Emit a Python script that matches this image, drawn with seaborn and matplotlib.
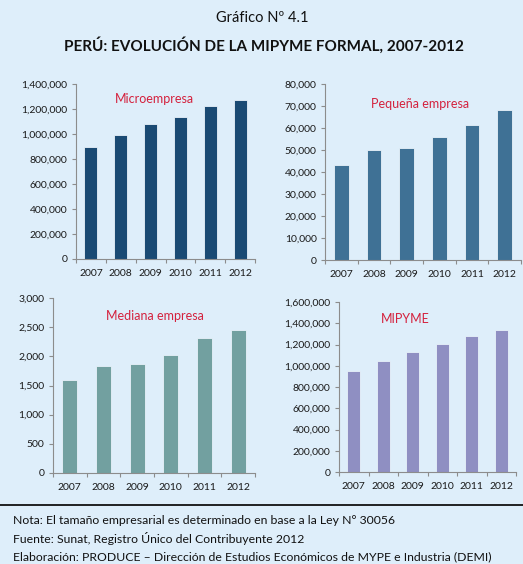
import matplotlib
matplotlib.use("Agg")
import matplotlib.pyplot as plt
import seaborn as sns
import pandas as pd
from matplotlib.ticker import FuncFormatter, FixedLocator

years = ["2007", "2008", "2009", "2010", "2011", "2012"]
micro = [895000, 991000, 1079000, 1138000, 1224000, 1272000]
pequena = [43100, 49800, 50850, 55860, 61180, 68300]
mediana = [1589, 1834, 1874, 2017, 2309, 2451]
mipyme = [946000, 1043600, 1125000, 1204000, 1282500, 1339000]

panel_titles = ["Microempresa", "Pequeña empresa", "Mediana empresa", "MIPYME"]
bar_colors = ["#1A4A73", "#3F7195", "#72A0A0", "#8F8FC2"]
y_max = [1400000, 80000, 3000, 1600000]
y_step = [200000, 10000, 500, 200000]

title1 = "Gráfico Nº 4.1"
title2 = "PERÚ: EVOLUCIÓN DE LA MIPYME FORMAL, 2007-2012"
notes = [
    "Nota: El tamaño empresarial es determinado en base a la Ley N° 30056",
    "Fuente: Sunat, Registro Único del Contribuyente 2012",
    "Elaboración: PRODUCE – Dirección de Estudios Económicos de MYPE e Industria (DEMI)",
]

BG = "#DEEEFA"
W, H = 523, 564
sns.set_theme(style="white")
plt.rcParams['font.family'] = ['Lato', 'DejaVu Sans']

fig = plt.figure(figsize=(W / 100, H / 100), dpi=100, facecolor=BG)

# axes boxes in pixels: left, top, right, bottom
boxes = [
    (76, 84, 255, 259),
    (325, 84, 521, 260),
    (53, 298, 255, 473),
    (339, 302, 516, 472),
]
# title centers (pixels)
title_pos = [(154, 99), (420, 104), (155, 316), (405, 319)]
series = [micro, pequena, mediana, mipyme]

for i in range(4):
    l, t, r, b = boxes[i]
    ax = fig.add_axes([l / W, 1 - b / H, (r - l) / W, (b - t) / H])
    ax.set_facecolor(BG)
    df = pd.DataFrame({"year": years, "value": series[i]})
    sns.barplot(data=df, x="year", y="value", color=bar_colors[i], ax=ax,
                width=0.44, edgecolor="#E8F2FA", linewidth=0.6, saturation=1)
    ax.set_xlim(-0.5, len(years) - 0.5)
    ax.set_ylim(0, y_max[i])
    ax.set_yticks(list(range(0, y_max[i] + 1, y_step[i])))
    ax.yaxis.set_major_formatter(FuncFormatter(lambda v, p: f"{int(v):,}"))
    ax.set_xlabel("")
    ax.set_ylabel("")
    for s in ["top", "right"]:
        ax.spines[s].set_visible(False)
    for s in ["left", "bottom"]:
        ax.spines[s].set_color("#8C8C8C")
        ax.spines[s].set_linewidth(0.8)
    ax.tick_params(axis="y", which="major", direction="out", length=3, width=0.8,
                   color="#8C8C8C", labelsize=7.5, labelcolor="#1A1A1A", pad=3, left=True)
    ax.tick_params(axis="x", which="major", length=0, labelsize=7.5,
                   labelcolor="#1A1A1A", pad=7)
    ax.xaxis.set_minor_locator(FixedLocator([k - 0.5 for k in range(len(years) + 1)]))
    ax.tick_params(axis="x", which="minor", direction="out", length=3, width=0.8,
                   color="#8C8C8C", bottom=True)
    ax.grid(False)
    tx, ty = title_pos[i]
    fig.text(tx / W, 1 - ty / H, panel_titles[i], ha="center", va="center",
             fontsize=9, color="#D4213D")

fig.text(262 / W, 1 - 18 / H, title1, ha="center", va="center", fontsize=10.5, color="#111111")
fig.text(264 / W, 1 - 45 / H, title2, ha="center", va="center", fontsize=11,
         fontweight="bold", color="#111111")

fig.add_artist(plt.Line2D([0, 1], [1 - 505 / H, 1 - 505 / H], transform=fig.transFigure,
                          color="#111111", linewidth=1.3))
for k, txt in enumerate(notes):
    fig.text(13 / W, 1 - (520 + k * 18.5) / H, txt, ha="left", va="center",
             fontsize=8.8, color="#111111")

fig.savefig("out.png", dpi=100, facecolor=BG)
